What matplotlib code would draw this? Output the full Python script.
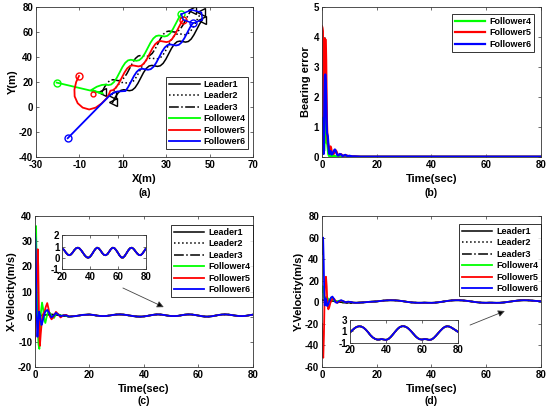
import matplotlib
matplotlib.use('Agg')
import matplotlib.pyplot as plt

plt.rcParams['font.family'] = ['Liberation Sans', 'DejaVu Sans']
plt.rcParams['font.weight'] = 'bold'
plt.rcParams['axes.labelweight'] = 'bold'
plt.rcParams['axes.unicode_minus'] = False

# ---------- (a) trajectories ----------
lead3_x = [0.30, 1.59, 2.89, 4.18, 5.47, 6.76, 8.06, 9.35, 10.64, 11.93, 13.23, 14.52, 15.81, 17.10, 18.40, 19.69, 20.98,
           22.27, 23.57, 24.86, 26.15, 27.44, 28.74, 30.03, 31.32, 32.61, 33.91, 35.20, 36.49, 37.78, 39.08, 40.37, 41.66]
lead3_y = [11.70, 16.00, 19.39, 21.34, 21.83, 21.43, 21.02, 21.52, 23.46, 26.86, 31.15, 35.45, 38.84, 40.79, 41.28, 40.88,
           40.47, 40.97, 42.91, 46.31, 50.60, 54.90, 58.29, 60.24, 60.73, 60.33, 59.92, 60.42, 62.36, 65.76, 70.05, 74.35, 77.74]
lead2_x = [4.90, 6.19, 7.49, 8.78, 10.07, 11.36, 12.66, 13.95, 15.24, 16.53, 17.83, 19.12, 20.41, 21.70, 23.00, 24.29, 25.58,
           26.87, 28.17, 29.46, 30.75, 32.04, 33.34, 34.63, 35.92, 37.21, 38.51, 39.80, 41.09, 42.38, 43.68, 44.97, 46.26]
lead2_y = [9.60, 13.90, 17.29, 19.24, 19.73, 19.33, 18.92, 19.42, 21.36, 24.76, 29.05, 33.35, 36.74, 38.69, 39.18, 38.78,
           38.37, 38.87, 40.81, 44.21, 48.50, 52.80, 56.19, 58.14, 58.63, 58.23, 57.82, 58.32, 60.26, 63.66, 67.95, 72.25, 75.64]
lead1_x = [5.30, 6.59, 7.89, 9.18, 10.47, 11.76, 13.06, 14.35, 15.64, 16.93, 18.23, 19.52, 20.81, 22.10, 23.40, 24.69, 25.98,
           27.27, 28.57, 29.86, 31.15, 32.44, 33.74, 35.03, 36.32, 37.61, 38.91, 40.20, 41.49, 42.78, 44.08, 45.37, 46.66]
lead1_y = [3.70, 8.00, 11.39, 13.34, 13.83, 13.43, 13.02, 13.52, 15.46, 18.86, 23.15, 27.45, 30.84, 32.79, 33.28, 32.88,
           32.47, 32.97, 34.91, 38.31, 42.60, 46.90, 50.29, 52.24, 52.73, 52.33, 51.92, 52.42, 54.36, 57.76, 62.05, 66.35, 69.74]

foll4_x = [-20.5, 0.8, -4.5, -2.0, 0.3, 2.06, 3.36, 4.65, 5.94, 7.23, 8.53, 9.82, 11.11, 12.40, 13.70, 14.99, 16.28,
           17.57, 18.87, 20.16, 21.45, 22.74, 24.04, 25.33, 26.62, 27.91, 29.21, 30.50, 31.79, 33.08, 34.38, 35.67, 36.96]
foll4_y = [19.5, 10.8, 13.6, 16.2, 17.6, 17.93, 17.52, 18.02, 19.96, 23.36, 27.65, 31.95, 35.34, 37.29, 37.78, 37.38, 36.97,
           37.47, 39.41, 42.81, 47.10, 51.40, 54.79, 56.74, 57.23, 56.83, 56.42, 56.92, 58.86, 62.26, 66.55, 70.85, 74.24]
foll5_x = [-10.2, -11.5, -12.3, -12.2, -10.8, -8.5, -5.5, -2.5, 0.2, 2.5, 3.6, 4.26, 5.55, 6.84, 8.13, 9.43, 10.72, 12.01,
           13.30, 14.60, 15.89, 17.18, 18.47, 19.77, 21.06, 22.35, 23.64, 24.94, 26.23, 27.52, 28.81, 30.11, 31.40, 32.69,
           33.98, 35.28, 36.57, 37.86]
foll5_y = [24.8, 20.0, 14.0, 8.5, 3.0, -0.5, -2.0, -0.5, 2.8, 6.8, 10.2, 13.02, 13.52, 15.46, 18.86, 23.15, 27.45, 30.84,
           32.79, 33.28, 32.88, 32.47, 32.97, 34.91, 38.31, 42.60, 46.90, 50.29, 52.24, 52.73, 52.33, 51.92, 52.42, 54.36,
           57.76, 62.05, 66.35, 69.74]
foll6_x = [-15.4, 3.6, 5.5, 7.5, 9.5, 11.24, 12.53, 13.83, 15.12, 16.41, 17.70, 19.00, 20.29, 21.58, 22.87, 24.17, 25.46,
           26.75, 28.04, 29.34, 30.63, 31.92, 33.21, 34.51, 35.80, 37.09, 38.38, 39.68, 40.97, 42.26]
foll6_y = [-25.0, 8.6, 11.2, 12.4, 12.6, 12.76, 16.16, 20.45, 24.75, 28.14, 30.09, 30.58, 30.18, 29.77, 30.27, 32.21, 35.61,
           39.90, 44.20, 47.59, 49.54, 50.03, 49.63, 49.22, 49.72, 51.66, 55.06, 59.35, 63.65, 67.04]
red_mark = (-3.6, 10.1)

# ---------- (b) bearing error ----------
t_b = [0, 0.15, 0.3, 0.45, 0.6, 0.75, 0.9, 1.05, 1.2, 1.35, 1.5, 1.65, 1.8, 1.95, 2.1, 2.3, 2.5, 2.7, 2.9, 3.1,
       3.3, 3.5, 3.8, 4.1, 4.4, 4.7, 5.0, 5.3, 5.6, 6.0, 6.5, 7.0, 7.5, 8.0, 8.5, 9.0, 9.5, 10.0, 11.0, 12.0,
       14.0, 17.0, 20.0, 30.0, 40.0, 50.0, 60.0, 70.0, 80.0]
err4 = [0.10, 0.30, 0.80, 1.20, 0.60, 0.20, 0.40, 1.00, 1.40, 1.20, 0.80, 0.50, 0.45, 0.42, 0.30, 0.10, 0.05, 0.02, 0.05, 0.08,
        0.05, 0.02, 0.04, 0.06, 0.04, 0.03, 0.02, 0.02, 0.01, 0.01, 0.01, 0.01, 0.01, 0.01, 0.01, 0.01, 0.01, 0.01, 0.01, 0.01,
        0.01, 0.01, 0.01, 0.01, 0.01, 0.01, 0.01, 0.01, 0.01]
err5 = [4.35, 4.30, 4.20, 2.00, 0.90, 1.60, 3.00, 3.95, 3.90, 3.90, 3.20, 2.00, 1.10, 0.70, 0.50, 0.40, 0.30, 0.25, 0.30, 0.35,
        0.30, 0.20, 0.12, 0.10, 0.12, 0.18, 0.22, 0.18, 0.10, 0.06, 0.08, 0.09, 0.05, 0.04, 0.06, 0.05, 0.03, 0.03, 0.02, 0.02,
        0.01, 0.01, 0.01, 0.01, 0.01, 0.01, 0.01, 0.01, 0.01]
err6 = [1.30, 1.25, 0.90, 0.30, 0.10, 0.80, 2.00, 2.70, 2.75, 2.60, 2.00, 1.30, 0.80, 0.75, 0.70, 0.45, 0.20, 0.10, 0.15, 0.20,
        0.15, 0.08, 0.10, 0.15, 0.22, 0.25, 0.20, 0.12, 0.06, 0.05, 0.10, 0.08, 0.03, 0.05, 0.07, 0.04, 0.03, 0.04, 0.02, 0.02,
        0.01, 0.01, 0.01, 0.01, 0.01, 0.01, 0.01, 0.01, 0.01]

# ---------- (c), (d) velocities ----------
t_lead = [0, 2.5, 5, 7.5, 10, 12.5, 15, 17.5,
          20, 21.25, 22.5, 23.75, 25, 26.25, 27.5, 28.75, 30, 31.25, 32.5, 33.75, 35, 36.25, 37.5, 38.75,
          40, 41.25, 42.5, 43.75, 45, 46.25, 47.5, 48.75, 50, 51.25, 52.5, 53.75, 55, 56.25, 57.5, 58.75,
          60, 61.25, 62.5, 63.75, 65, 66.25, 67.5, 68.75, 70, 71.25, 72.5, 73.75, 75, 76.25, 77.5, 78.75, 80]
vx_lead = [0.25, 0.5, 0.85, 0.8, 0.4, 0.03, 0.25, 0.7,
           0.85, 0.7, 0.48, 0.3, 0.23, 0.3, 0.48, 0.7, 0.86, 0.9, 0.82, 0.64, 0.42, 0.2, 0.05, 0.0,
           0.1, 0.3, 0.55, 0.78, 0.9, 0.84, 0.65, 0.42, 0.26, 0.23, 0.33, 0.55, 0.78, 0.9, 0.86, 0.68,
           0.45, 0.2, 0.03, 0.02, 0.18, 0.42, 0.67, 0.85, 0.9, 0.8, 0.6, 0.4, 0.26, 0.23, 0.35, 0.57, 0.8]
vy_lead = [1.9, 1.6, 0.8, -0.1, -0.5, -0.45, -0.1, 0.45,
           0.8, 1.2, 1.55, 1.8, 1.9, 1.85, 1.65, 1.3, 0.85, 0.35, -0.05, -0.3, -0.45, -0.45, -0.35, -0.45,
           -0.5, -0.35, 0.0, 0.45, 0.95, 1.4, 1.75, 1.9, 1.9, 1.75, 1.45, 1.05, 0.6, 0.15, -0.2, -0.4,
           -0.45, -0.35, -0.4, -0.5, -0.45, -0.2, 0.2, 0.65, 1.1, 1.5, 1.8, 1.9, 1.85, 1.65, 1.4, 1.15, 0.85]

tx4 = [0, 0.2, 0.4, 0.6, 0.8, 1.0, 1.3, 1.6, 1.9, 2.2, 2.6, 3.0, 3.4, 3.8, 4.3, 4.8, 5.5, 6.2, 7.0, 7.8, 8.6, 9.5, 10.5, 11.5, 12.5]
vx4 = [0, 30, 36, 20, 5, -5, -11, -12.8, -6, 2, 5.6, 3, -1, -2.5, 0, 2, 1.5, 0, -0.5, 1.2, 1.0, 0.3, 0.6, 0.4, 0.03]
tx5 = [0, 0.2, 0.4, 0.7, 1.0, 1.2, 1.4, 1.6, 1.8, 2.1, 2.5, 3.0, 3.5, 4.0, 4.5, 5.0, 5.5, 6.1, 6.8, 7.7, 8.5, 9.4, 10.5, 11.5, 12.5]
vx5 = [-9.7, -5, 5, 18, 26.8, 20, 5, -8, -11.6, -7, -2, 1, 2, 4, 5.4, 3, 0, -1.05, 0, 1.9, 1.0, -0.3, 0.6, 0.7, 0.03]
tx6 = [0, 0.2, 0.4, 0.6, 0.9, 1.2, 1.5, 1.8, 2.1, 2.4, 2.8, 3.3, 3.8, 4.5, 5.2, 6.0, 6.8, 7.7, 8.6, 9.5, 10.5, 11.5, 12.5]
vx6 = [33, 30, 15, 2, -8, -3, 2, 1, -1.5, -3.3, -2, 0.5, 2, 2.7, 1.5, -0.3, 0.3, 1.5, 0.7, 0.2, 0.5, 0.5, 0.03]

ty4 = [0, 0.3, 0.6, 1.0, 1.5, 2.0, 2.5, 3.0, 3.5, 4.0, 4.5, 5.5, 6.5, 7.5, 8.5, 9.5, 10.5, 11.5, 12.5]
vy4 = [10, 15, 5, 2, 5, 4, 2, 3, 4, 2.5, 1.5, 1, 1.5, 0.8, 0.3, 0.5, 0.3, -0.3, -0.45]
ty5 = [0, 0.2, 0.45, 0.7, 0.9, 1.1, 1.45, 1.7, 1.9, 2.1, 2.3, 2.6, 3.0, 3.5, 4.0, 4.5, 5.0, 5.6, 6.3, 7.0, 7.8, 8.6, 9.5,
       10.5, 11.5, 12.5]
vy5 = [-20, -45, -51.4, -30, 0, 18, 23.7, 15, 2, -4, -6.5, -5, -1, 2, 3.5, 3, 1, -0.5, 0.5, 1.5, 1, 0, 0.5, 0.3, -0.3, -0.45]
ty6 = [0, 0.2, 0.4, 0.6, 0.8, 1.0, 1.3, 1.6, 1.9, 2.3, 2.8, 3.3, 3.8, 4.3, 4.9, 5.5, 6.2, 7.0, 7.8, 8.6, 9.5, 10.5, 11.5, 12.5]
vy6 = [45, 58, 60, 40, 10, -3, 3.5, 1, -3.5, -2, 2, 4.5, 5.3, 3.5, 0, -0.5, 1, 2, 1, 0, 0.5, 0.3, -0.3, -0.45]

lead_names = ['Leader1', 'Leader2', 'Leader3']
foll_names = ['Follower4', 'Follower5', 'Follower6']
lead_styles = ['-', ':', '-.']
foll_colors = ['#00ff00', '#ff0000', '#0000ff']

FS_TICK = 7
FS_LAB = 8
FS_LEG = 6.5
EDGE = '#333333'


def style_axes(ax, fs=FS_TICK):
    for s in ax.spines.values():
        s.set_color(EDGE)
        s.set_linewidth(0.6)
    ax.tick_params(direction='in', length=2.5, width=0.5, colors=EDGE, labelcolor='black',
                   labelsize=fs, top=True, right=True, pad=2)
    for lab in ax.get_xticklabels() + ax.get_yticklabels():
        lab.set_fontweight('bold')


def legend(ax, handles, anchor, loc):
    leg = ax.legend(handles=handles, loc=loc, bbox_to_anchor=anchor, fontsize=FS_LEG, frameon=True,
                    fancybox=False, edgecolor='black', handlelength=3.4, handletextpad=0.4,
                    labelspacing=0.28, borderpad=0.3, borderaxespad=0.0)
    leg.get_frame().set_linewidth(0.7)
    for t in leg.get_texts():
        t.set_fontweight('bold')
    return leg


fig = plt.figure(figsize=(5.5, 4.12), dpi=100)

# ----- (a)
ax = fig.add_axes([0.0655, 0.619, 0.3945, 0.364])
hs = []
for xs, ys, ls, nm in zip([lead1_x, lead2_x, lead3_x], [lead1_y, lead2_y, lead3_y], lead_styles, lead_names):
    h, = ax.plot(xs, ys, color='black', ls=ls, lw=1.1, label=nm)
    ax.plot([xs[0], xs[-1]], [ys[0], ys[-1]], ls='none', marker='<', ms=6, mfc='none', mec='black', mew=1.0)
    hs.append(h)
for xs, ys, c, nm in zip([foll4_x, foll5_x, foll6_x], [foll4_y, foll5_y, foll6_y], foll_colors, foll_names):
    h, = ax.plot(xs, ys, color=c, lw=1.3, label=nm)
    ax.plot([xs[0], xs[-1]], [ys[0], ys[-1]], ls='none', marker='o', ms=5, mfc='none', mec=c, mew=1.0)
    hs.append(h)
ax.plot([red_mark[0]], [red_mark[1]], ls='none', marker='o', ms=3.5, mfc='none', mec='#ff0000', mew=1.0)
# final formation outline
ring = [(foll4_x[-1], foll4_y[-1]), (lead3_x[-1], lead3_y[-1]), (lead2_x[-1], lead2_y[-1]),
        (lead1_x[-1], lead1_y[-1]), (foll6_x[-1], foll6_y[-1]), (foll5_x[-1], foll5_y[-1]), (foll4_x[-1], foll4_y[-1])]
ax.plot([p[0] for p in ring], [p[1] for p in ring], color='#0000ff', lw=1.1)
ax.set_xlim(-30, 70)
ax.set_ylim(-40, 80)
ax.set_xticks([-30, -10, 10, 30, 50, 70])
ax.set_yticks([-40, -20, 0, 20, 40, 60, 80])
ax.set_xlabel('X(m)', fontsize=FS_LAB, labelpad=3)
ax.set_ylabel('Y(m)', fontsize=FS_LAB, labelpad=1)
style_axes(ax)
legend(ax, hs, (0.977, 0.053), 'lower right')

# ----- (b)
ax = fig.add_axes([0.5855, 0.619, 0.398, 0.364])
hs = []
for ys, c, nm in zip([err4, err5, err6], foll_colors, foll_names):
    h, = ax.plot(t_b, ys, color=c, lw=1.6, label=nm)
    hs.append(h)
ax.set_xlim(0, 80)
ax.set_ylim(0, 5)
ax.set_xticks([0, 20, 40, 60, 80])
ax.set_yticks([0, 1, 2, 3, 4, 5])
ax.set_xlabel('Time(sec)', fontsize=FS_LAB, labelpad=3)
ax.set_ylabel('Bearing error', fontsize=FS_LAB, labelpad=2)
style_axes(ax)
legend(ax, hs, (0.968, 0.953), 'upper right')


def velocity_panel(rect, lead_v, trans, ylim, yticks, ylabel, inset_rect, in_ylim, in_yticks, arrow, leg_anchor):
    ax = fig.add_axes(rect)
    hs = []
    for ls, nm in zip(lead_styles, lead_names):
        h, = ax.plot(t_lead, lead_v, color='black', ls=ls, lw=1.1, label=nm)
        hs.append(h)
    series = []
    for (tt, vv), c, nm in zip(trans, foll_colors, foll_names):
        t_all = tt + t_lead[6:]
        v_all = vv + lead_v[6:]
        h, = ax.plot(t_all, v_all, color=c, lw=1.3, label=nm)
        hs.append(h)
        series.append((t_all, v_all, c))
    ax.set_xlim(0, 80)
    ax.set_ylim(*ylim)
    ax.set_xticks([0, 20, 40, 60, 80])
    ax.set_yticks(yticks)
    ax.set_xlabel('Time(sec)', fontsize=FS_LAB, labelpad=3)
    ax.set_ylabel(ylabel, fontsize=FS_LAB, labelpad=1)
    style_axes(ax)
    legend(ax, hs, leg_anchor, 'upper right')
    ax.annotate('', xy=arrow[1], xytext=arrow[0],
                arrowprops=dict(arrowstyle='-|>', color='#444444', lw=0.6, mutation_scale=10,
                                fc='black', shrinkA=0, shrinkB=0))
    ins = fig.add_axes(inset_rect)
    for ls in lead_styles:
        ins.plot(t_lead, lead_v, color='black', ls=ls, lw=1.0)
    for t_all, v_all, c in series:
        ins.plot(t_all, v_all, color=c, lw=1.3)
    ins.set_xlim(20, 80)
    ins.set_ylim(*in_ylim)
    ins.set_xticks([20, 40, 60, 80])
    ins.set_yticks(in_yticks)
    style_axes(ins)
    return ax


velocity_panel([0.0636, 0.1092, 0.396, 0.3665], vx_lead,
               [(tx4, vx4), (tx5, vx5), (tx6, vx6)], (-20, 40), [-20, -10, 0, 10, 20, 30, 40],
               'X-Velocity(m/s)', [0.1133, 0.347, 0.1516, 0.0818], (-1, 2), [-1, 0, 1, 2],
               ((32.3, 11.4), (47.3, 3.8)), (1.0, 0.94))
velocity_panel([0.5855, 0.1092, 0.398, 0.3665], vy_lead,
               [(ty4, vy4), (ty5, vy5), (ty6, vy6)], (-60, 80), [-60, -40, -20, 0, 20, 40, 60, 80],
               'Y-Velocity(m/s)', [0.6364, 0.1682, 0.197, 0.0550], (-1, 3), [-1, 1, 3],
               ((54.1, -21.1), (66.8, -8.1)), (1.0, 0.947))

for lab, x, y in [('(a)', 0.2627, 0.5316), ('(b)', 0.7845, 0.5316), ('(c)', 0.2618, 0.0267), ('(d)', 0.7845, 0.0267)]:
    fig.text(x, y, lab, ha='center', va='center', fontsize=7.5, fontweight='bold')

fig.savefig('out.png', dpi=100)
